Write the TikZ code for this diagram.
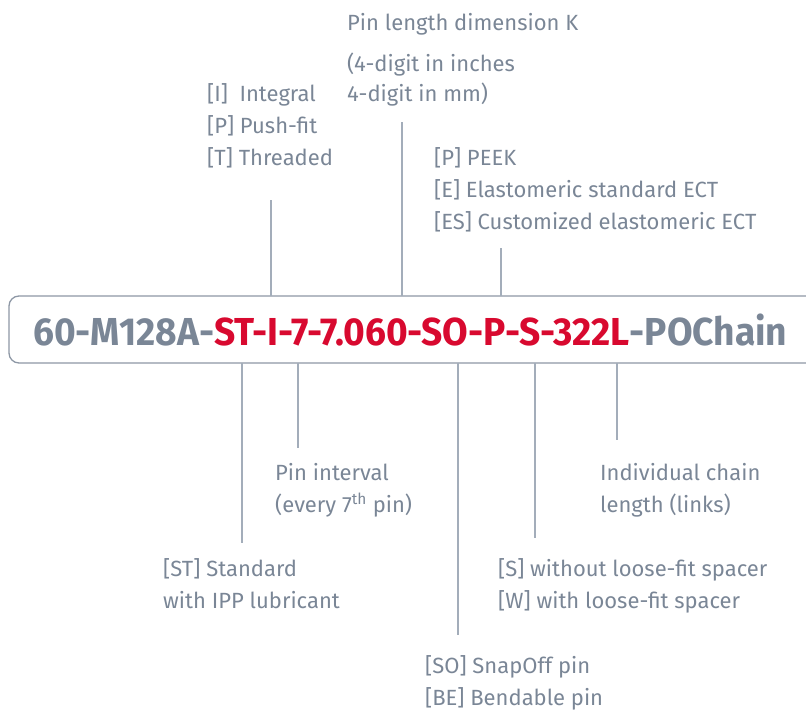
\documentclass[tikz,border=0pt]{standalone}
\usepackage{fontspec}
\setmainfont{Fira Sans}
\usetikzlibrary{positioning}
\definecolor{codegray}{HTML}{7A8696}
\definecolor{codered}{HTML}{D8092F}
\definecolor{leadgray}{HTML}{A3ADBA}
\definecolor{framegray}{HTML}{8D97A5}
\tikzset{
  desc/.style={anchor=base west, inner sep=0pt, text=codegray, font=\fontsize{22}{32}\selectfont},
  lead/.style={draw=leadgray, line width=1.3pt},
  frame/.style={draw=framegray, line width=1.3pt, rounded corners=10pt}
}
\begin{document}
\begin{tikzpicture}[x=1pt,y=-1pt]
\useasboundingbox (0,0) rectangle (806,711);
\draw[frame] (840,296) -- (9,296) -- (9,363) -- (840,363);
\node[anchor=base west, inner sep=0pt, font=\fontsize{39}{39}\selectfont\bfseries] (code) at (33,345)
  {\scalebox{0.952}[1]{\textcolor{codegray}{60-M128A-}\textcolor{codered}{ST-I-7-7.060-SO-P-S-322L}\textcolor{codegray}{-POChain}}};

\node[desc] (pinlen) at (347,31) {Pin length dimension K};
\node[desc] (inches) at (347,72) {(4-digit in inches};
\node[desc] (mm) at (347,102) {4-digit in mm)};
\node[desc] (integral) at (207,102) {[I]\ \ Integral};
\node[desc] (pushfit) at (207,134) {[P] Push-fit};
\node[desc] (threaded) at (207,166) {[T] Threaded};
\node[desc] (peek) at (434,166) {[P] PEEK};
\node[desc] (elast) at (434,198) {[E] Elastomeric standard ECT};
\node[desc] (custom) at (434,230) {[ES] Customized elastomeric ECT};

\node[desc] (interval) at (275,480) {Pin interval};
\node[desc] (every) at (275,512) {(every 7\textsuperscript{th} pin)};
\node[desc] (chain) at (600,480) {Individual chain};
\node[desc] (links) at (600,512) {length (links)};
\node[desc] (standard) at (163,576) {[ST] Standard};
\node[desc] (ipp) at (163,608) {with IPP lubricant};
\node[desc] (without) at (498,576) {[S] without loose-fit spacer};
\node[desc] (withsp) at (498,608) {[W] with loose-fit spacer};
\node[desc] (snapoff) at (425,673) {[SO] SnapOff pin};
\node[desc] (bendable) at (425,705) {[BE] Bendable pin};

\coordinate (tipI) at (271,296);   \coordinate (endI) at (271,200);
\coordinate (tipK) at (402,296);   \coordinate (endK) at (402,122);
\coordinate (tipE) at (501,296);   \coordinate (endE) at (501,248);
\coordinate (tipST) at (242,363);  \coordinate (endST) at (242,543);
\coordinate (tipN) at (298,363);   \coordinate (endN) at (298,448);
\coordinate (tipSO) at (458,363);  \coordinate (endSO) at (458,635);
\coordinate (tipS) at (535,363);   \coordinate (endS) at (535,538);
\coordinate (tipL) at (617,363);   \coordinate (endL) at (617,440);

\foreach \a in {I,K,E,ST,N,SO,S,L}{
  \draw[lead] (tip\a) -- (end\a);
}
\end{tikzpicture}
\end{document}
